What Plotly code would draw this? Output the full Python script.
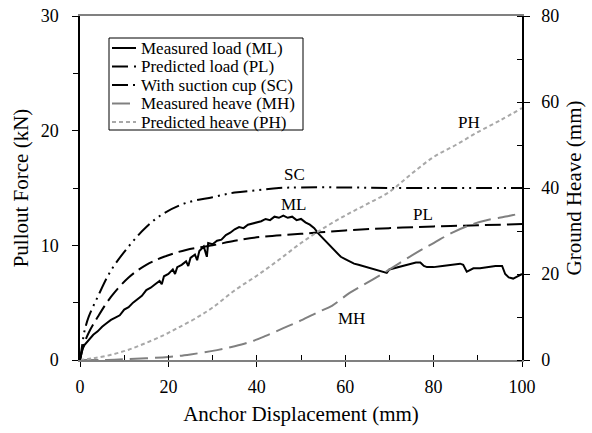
import plotly.graph_objects as go

FONT = "Liberation Serif"

# Measured load (kN) vs displacement (mm)
ml_x = [0, 0.5, 1, 2, 3, 4, 5, 6, 7, 8, 9, 10, 11, 12, 13, 14, 15, 16, 17, 18, 18.5, 19, 20, 21, 21.5,
        22, 23, 24, 24.5, 25, 26, 26.5, 27, 28, 28.7, 29, 30, 31, 32, 33, 34, 35, 36, 37, 38, 39, 40,
        41, 42, 43, 44, 45, 46, 47, 48, 49, 50, 51, 52, 53, 54, 55, 56, 57, 58, 59, 60, 61, 62, 63,
        64, 65, 66, 67, 68, 69.4, 70, 71, 72, 73, 74, 75, 76, 77, 77.8, 78.5, 79.2, 80, 82, 84, 86,
        86.7, 87.5, 88, 89, 90.5, 92, 94, 95.5, 96.2, 97, 98, 99, 100]
ml_y = [0, 0.9, 1.3, 1.8, 2.2, 2.5, 2.9, 3.2, 3.5, 3.7, 3.9, 4.4, 4.6, 5.0, 5.3, 5.6, 6.1, 6.3, 6.6, 6.9, 6.6,
        7.3, 7.5, 7.9, 7.5, 8.1, 8.3, 8.6, 8.2, 8.9, 9.2, 8.7, 9.5, 9.9, 9.0, 10.2, 10.1, 10.4, 10.5, 10.9,
        11.1, 11.4, 11.6, 11.5, 11.8, 11.9, 12.0, 12.1, 12.3, 12.2, 12.5, 12.4, 12.6, 12.4, 12.5, 12.2, 12.3,
        12.0, 11.8, 11.5, 11.0, 10.6, 10.2, 9.8, 9.4, 9.0, 8.8, 8.6, 8.4, 8.3, 8.2, 8.1, 8.0, 7.9, 7.8, 7.6,
        7.9, 8.0, 8.1, 8.2, 8.3, 8.4, 8.5, 8.5, 8.2, 8.1, 8.1, 8.1, 8.2, 8.3, 8.4, 8.3, 7.7, 7.8, 8.0, 8.0,
        8.1, 8.2, 8.2, 7.5, 7.2, 7.1, 7.3, 7.5]

# Predicted load (kN)
pl_x = [0, 1, 2, 4, 7, 11, 15, 19, 24, 30, 35, 40, 50, 60, 70, 80, 90, 100]
pl_y = [0, 1.5, 2.4, 3.75, 5.5, 7.2, 8.3, 9.0, 9.6, 10.0, 10.4, 10.7, 11.0, 11.3, 11.5, 11.65, 11.75, 11.85]

# With suction cup (kN)
sc_x = [0, 0.5, 1, 2, 4, 7, 11, 15, 19, 24, 30, 35, 40, 45, 50, 60, 70, 80, 90, 100]
sc_y = [0, 1.3, 2.5, 3.8, 5.5, 7.8, 9.9, 11.6, 12.8, 13.7, 14.2, 14.6, 14.8, 15.0, 15.05, 15.05, 15.0, 15.0, 15.0, 15.0]

# Measured heave (mm)
mh_x = [0, 5, 10, 20, 25, 31, 35, 38.5, 42, 46, 50, 54, 57, 61, 65, 69, 73, 77, 80, 84, 88, 92, 96, 98, 100]
mh_y = [0, 0, 0.2, 0.7, 1.3, 2.3, 3.2, 4.2, 5.6, 7.4, 9.2, 11.2, 12.6, 15.6, 18.0, 20.4, 23.0, 25.5, 27.2, 29.5, 31.3, 32.5, 33.3, 33.7, 34.2]

# Predicted heave (mm)
ph_x = [0, 3, 7, 11, 15, 19, 22, 26, 30, 35, 40, 45, 50, 55, 60, 65, 70, 75, 80, 85, 90, 95, 100]
ph_y = [0, 0.4, 1.2, 2.4, 4.0, 5.8, 7.4, 9.6, 12.2, 16.2, 19.6, 23.3, 27.2, 30.6, 33.6, 36.3, 39.1, 43.3, 47.2, 50.0, 53.0, 55.7, 58.6]

x_ticks = [0, 20, 40, 60, 80, 100]
left_ticks = [0, 10, 20, 30]
right_ticks = [0, 20, 40, 60, 80]

series_names = ["Measured load (ML)", "Predicted load (PL)", "With suction cup (SC)",
                "Measured heave (MH)", "Predicted heave (PH)"]
styles = [dict(color="black", width=2),
          dict(color="black", width=2, dash="16px,6px"),
          dict(color="black", width=2, dash="16px,5px,2px,5px,2px,5px"),
          dict(color="#808080", width=2, dash="18px,7px"),
          dict(color="#a8a8a8", width=2, dash="4px,3px")]

fig = go.Figure()
fig.add_trace(go.Scatter(x=ml_x, y=ml_y, mode="lines", name=series_names[0], line=styles[0]))
fig.add_trace(go.Scatter(x=pl_x, y=pl_y, mode="lines", name=series_names[1], line_shape="spline", line=styles[1]))
fig.add_trace(go.Scatter(x=sc_x, y=sc_y, mode="lines", name=series_names[2], line_shape="spline", line=styles[2]))
fig.add_trace(go.Scatter(x=mh_x, y=mh_y, mode="lines", name=series_names[3], yaxis="y2", line_shape="spline", line=styles[3]))
fig.add_trace(go.Scatter(x=ph_x, y=ph_y, mode="lines", name=series_names[4], yaxis="y2", line_shape="spline", line=styles[4]))

labels = [("SC", 48.5, 16.2), ("ML", 48.5, 13.6), ("PL", 77.6, 12.7), ("PH", 88.0, 20.7), ("MH", 61.5, 3.6)]
for t, lx, ly in labels:
    fig.add_annotation(x=lx, y=ly, xref="x", yref="y", text=t, showarrow=False,
                       font=dict(family=FONT, size=17, color="black"))

# Manual legend box (paper coordinates): plot area spans px 80..522 horizontally, 16..360 vertically
def px_x(p):
    return (p - 80) / 442.0

def px_y(p):
    return (360 - p) / 344.0

fig.add_shape(type="rect", xref="paper", yref="paper",
              x0=px_x(109), x1=px_x(303), y0=px_y(130), y1=px_y(38),
              line=dict(color="black", width=1), fillcolor="white", layer="above")
for i, (nm, st) in enumerate(zip(series_names, styles)):
    cy = 48 + 18.5 * i
    fig.add_shape(type="line", xref="paper", yref="paper",
                  x0=px_x(112), x1=px_x(136), y0=px_y(cy), y1=px_y(cy),
                  line=st, layer="above")
    fig.add_annotation(xref="paper", yref="paper", x=px_x(139), y=px_y(cy),
                       xanchor="left", yanchor="middle", text=nm, showarrow=False,
                       font=dict(family=FONT, size=17, color="black"))

fig.update_layout(
    width=592, height=433,
    margin=dict(l=80, r=70, t=16, b=73, autoexpand=False),
    paper_bgcolor="white", plot_bgcolor="white",
    font=dict(family=FONT, size=18, color="black"),
    showlegend=False,
    xaxis=dict(range=[0, 100], tickvals=x_ticks, showgrid=False, zeroline=False, automargin=False,
               showline=True, linecolor="#808080", linewidth=1.5, mirror=True,
               ticks="outside", ticklen=5, tickcolor="black", ticklabelstandoff=5,
               minor=dict(dtick=10, ticks="inside", ticklen=5, tickcolor="black"),
               title=dict(text="Anchor Displacement (mm)", font=dict(size=21), standoff=10),
               tickfont=dict(size=18)),
    yaxis=dict(range=[0, 30], tickvals=left_ticks, showgrid=False, zeroline=False, automargin=False,
               showline=True, linecolor="black", linewidth=1.5,
               ticks="outside", ticklen=6, tickcolor="black", ticklabelstandoff=10,
               minor=dict(dtick=5, ticks="outside", ticklen=5, tickcolor="black"),
               title=dict(text="Pullout Force (kN)", font=dict(size=21), standoff=6),
               tickfont=dict(size=18)),
    yaxis2=dict(range=[0, 80], tickvals=right_ticks, overlaying="y", side="right", automargin=False,
                showgrid=False, zeroline=False, showline=True, linecolor="black", linewidth=1.5,
                ticks="outside", ticklen=6, tickcolor="black", ticklabelstandoff=8,
                minor=dict(dtick=10, ticks="inside", ticklen=5, tickcolor="black"),
                title=dict(text="Ground Heave (mm)", font=dict(size=21), standoff=8),
                tickfont=dict(size=18)),
)

fig.write_html("out.html")
